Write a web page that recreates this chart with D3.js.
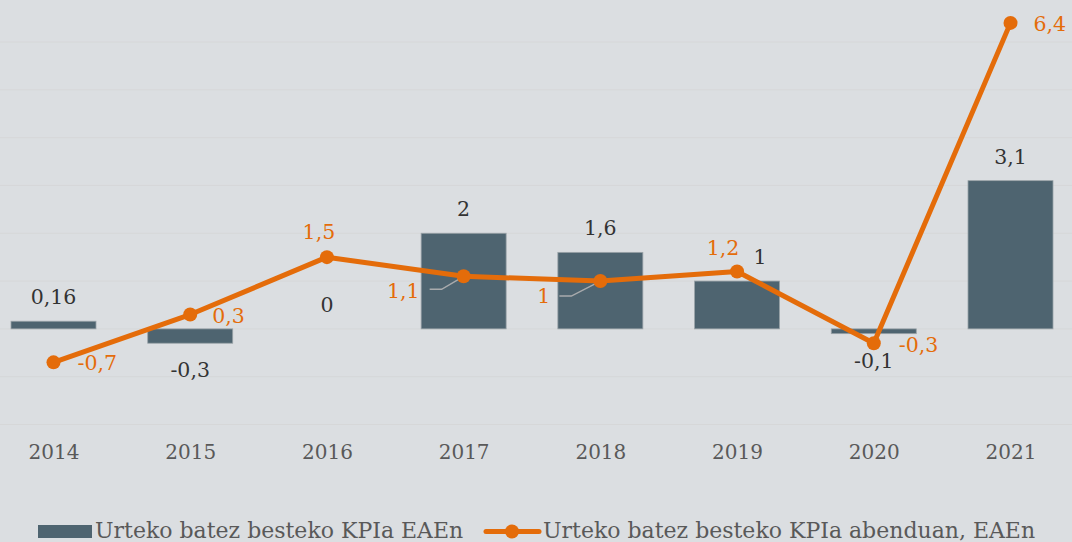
<!DOCTYPE html>
<html>
<head>
<meta charset="utf-8">
<script src="https://cdn.jsdelivr.net/npm/d3@7/dist/d3.min.js"></script>
<style>
  html, body { margin: 0; padding: 0; background: #dbdee1; }
  svg { display: block; }
  text { font-family: "DejaVu Serif", serif; }
</style>
</head>
<body>
<svg id="chart" width="1072" height="542"></svg>
<script>
// ---- data ----
const years = ["2014", "2015", "2016", "2017", "2018", "2019", "2020", "2021"];
const barValues = [0.16, -0.3, 0, 2, 1.6, 1, -0.1, 3.1];
const lineValues = [-0.7, 0.3, 1.5, 1.1, 1, 1.2, -0.3, 6.4];
const barLabels = ["0,16", "-0,3", "0", "2", "1,6", "1", "-0,1", "3,1"];
const lineLabels = ["-0,7", "0,3", "1,5", "1,1", "1", "1,2", "-0,3", "6,4"];
const yTicks = [-2, -1, 0, 1, 2, 3, 4, 5, 6];
const legendNames = ["Urteko batez besteko KPIa EAEn", "Urteko batez besteko KPIa abenduan, EAEn"];

// ---- styles ----
const BG = "#dbdee1", GRID = "#d6d7d8", BAR = "#4e6470", ORANGE = "#e46c0a";
const DARK = "#333333", AXIS = "#595959";
const LABEL_FS = 20.5, AXIS_FS = 20, LEGEND_FS = 22;

const W = 1072, H = 542;
const svg = d3.select("#chart");
svg.append("rect").attr("width", W).attr("height", H).attr("fill", BG);

const x = d3.scalePoint().domain(years).range([53.5, 1010.5]);
const barW = 85;
const y = d3.scaleLinear().domain([-2, 6]).range([424.5, 42]);

// gridlines
svg.append("g").selectAll("line").data(yTicks).join("line")
  .attr("x1", 0).attr("x2", W)
  .attr("y1", d => y(d)).attr("y2", d => y(d))
  .attr("stroke", GRID).attr("stroke-width", 1);

// x axis labels
const xAxis = d3.axisBottom(x).tickSize(0).tickPadding(0);
const gx = svg.append("g").attr("transform", "translate(0,452)").call(xAxis);
gx.select(".domain").remove();
gx.selectAll("text")
  .attr("dy", "0.35em")
  .attr("y", 0)
  .style("font-family", '"DejaVu Serif", serif')
  .style("font-size", AXIS_FS + "px")
  .attr("fill", AXIS);

// bars
svg.append("g").selectAll("rect").data(years).join("rect")
  .attr("x", d => x(d) - barW / 2)
  .attr("width", barW)
  .attr("y", (d, i) => Math.min(y(barValues[i]), y(0)))
  .attr("height", (d, i) => Math.abs(y(barValues[i]) - y(0)))
  .attr("fill", BAR)
  .attr("stroke", "#9aa3a8")
  .attr("stroke-width", (d, i) => barValues[i] === 0 ? 0 : 0.8);

// bar labels
const barLabelDx = [0, 0, 0, 0, 0, 23, 0, 0];
svg.append("g").selectAll("text").data(years).join("text")
  .attr("x", (d, i) => x(d) + barLabelDx[i])
  .attr("y", (d, i) => barValues[i] >= 0 ? y(barValues[i]) - 17 : y(barValues[i]) + 34)
  .attr("text-anchor", "middle")
  .attr("font-size", LABEL_FS)
  .attr("fill", DARK)
  .text((d, i) => barLabels[i]);

// line
const line = d3.line().x((d, i) => x(years[i])).y(d => y(d));
svg.append("path").datum(lineValues)
  .attr("d", line)
  .attr("fill", "none")
  .attr("stroke", ORANGE)
  .attr("stroke-width", 5)
  .attr("stroke-linejoin", "round");

// leader lines for 2017 and 2018
const leaders = [
  { i: 3, pts: [[-34, 13], [-22, 13], [0, 0]] },
  { i: 4, pts: [[-41, 15], [-29, 15], [0, 0]] }
];
svg.append("g").selectAll("path").data(leaders).join("path")
  .attr("d", d => d3.line()(d.pts.map(p => [x(years[d.i]) + p[0], y(lineValues[d.i]) + p[1]])))
  .attr("fill", "none").attr("stroke", "#a9abad").attr("stroke-width", 1.5);

svg.append("g").selectAll("circle").data(lineValues).join("circle")
  .attr("cx", (d, i) => x(years[i]))
  .attr("cy", d => y(d))
  .attr("r", 7)
  .attr("fill", ORANGE);

// line labels: [dx, dy(baseline), anchor]
const lineLabelPos = [
  [24, 8, "start"], [22, 8, "start"], [-8, -18, "middle"], [-44, 22, "end"],
  [-50, 22, "end"], [-14, -17, "middle"], [25, 9, "start"], [23, 8, "start"]
];
svg.append("g").selectAll("text").data(lineValues).join("text")
  .attr("x", (d, i) => x(years[i]) + lineLabelPos[i][0])
  .attr("y", (d, i) => y(d) + lineLabelPos[i][1])
  .attr("text-anchor", (d, i) => lineLabelPos[i][2])
  .attr("font-size", LABEL_FS)
  .attr("fill", ORANGE)
  .text((d, i) => lineLabels[i]);

// legend
const lg = svg.append("g");
lg.append("rect").attr("x", 38).attr("y", 525).attr("width", 54).attr("height", 13).attr("fill", BAR);
lg.append("text").attr("x", 95).attr("y", 538).attr("font-size", LEGEND_FS).attr("fill", AXIS).text(legendNames[0]);
lg.append("line").attr("x1", 486).attr("x2", 539).attr("y1", 531.5).attr("y2", 531.5)
  .attr("stroke", ORANGE).attr("stroke-width", 5).attr("stroke-linecap", "round");
lg.append("circle").attr("cx", 512).attr("cy", 531.5).attr("r", 7).attr("fill", ORANGE);
lg.append("text").attr("x", 543).attr("y", 538).attr("font-size", LEGEND_FS).attr("fill", AXIS).text(legendNames[1]);
</script>
</body>
</html>
